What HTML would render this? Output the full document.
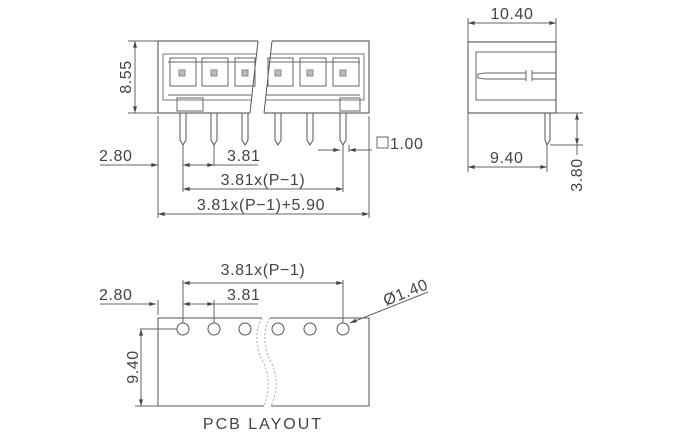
<!DOCTYPE html><html><head><style>body{margin:0;background:#fff}svg{display:block}text{font-family:"Liberation Sans",sans-serif;fill:#444;font-size:16px;letter-spacing:0.6px}</style></head><body>
<svg width="680" height="440" viewBox="0 0 680 440" xmlns="http://www.w3.org/2000/svg" stroke="#444" fill="none" stroke-width="1">
<defs><marker id="a" viewBox="0 0 10 6" refX="10" refY="3" markerWidth="8" markerHeight="4" orient="auto-start-reverse"><path d="M0,0L10,3L0,6z" fill="#444" stroke="none"/></marker></defs>
<!-- front view -->
<path d="M258,41H158V113H250M264,113H369V41H272"/>
<path d="M257,54H163V100H251M265,100H364V54H270" stroke="#777"/>
<path d="M258,41L250,113M272,41L264,113" stroke="#555"/>
<g stroke="#666">
<rect x="170" y="58" width="26" height="28"/><rect x="202" y="58" width="26" height="28"/><rect x="235" y="58" width="20" height="28"/>
<rect x="268" y="58" width="25" height="28"/><rect x="300" y="58" width="26" height="28"/><rect x="333" y="58" width="26" height="28"/>
<path d="M168,62H256M268,62H360M168,95H252M266,95H360"/>
<rect x="177" y="98" width="26" height="13"/><rect x="340" y="98" width="20" height="13"/>
</g>
<g stroke="#888" fill="#bbb"><rect x="179" y="70" width="6" height="6"/><rect x="211" y="70" width="6" height="6"/><rect x="242" y="70" width="6" height="6"/><rect x="275" y="70" width="6" height="6"/><rect x="307" y="70" width="6" height="6"/><rect x="340" y="70" width="6" height="6"/></g>
<g stroke="#555">
<path d="M180,113V140L183,145L186,140V113"/><path d="M211,113V140L214,145L217,140V113"/><path d="M242,113V140L245,145L248,140V113"/><path d="M275,113V140L278,145L281,140V113"/><path d="M307,113V140L310,145L313,140V113"/><path d="M340,113V140L343,145L346,140V113"/>
</g>
<g stroke="#666">
<path d="M128,41H158M128,113H158"/><line x1="135" y1="41" x2="135" y2="113" marker-start="url(#a)" marker-end="url(#a)"/>
<path d="M158,116V218M369,116V218M183,145V192M214,145V166M343,145V192M349,145V152"/>
<line x1="100" y1="165" x2="158" y2="165" marker-end="url(#a)"/>
<line x1="183" y1="165" x2="214" y2="165" marker-start="url(#a)" marker-end="url(#a)"/><path d="M214,165H258"/>
<line x1="183" y1="189" x2="343" y2="189" marker-start="url(#a)" marker-end="url(#a)"/>
<line x1="158" y1="214" x2="369" y2="214" marker-start="url(#a)" marker-end="url(#a)"/>
<line x1="318" y1="150" x2="340" y2="150" marker-end="url(#a)"/><line x1="372" y1="150" x2="349" y2="150" marker-end="url(#a)"/>
<rect x="377" y="137" width="11" height="11"/>
</g>
<text x="99" y="161" stroke="none">2.80</text>
<text x="227" y="161" stroke="none">3.81</text>
<text x="263" y="185" stroke="none" text-anchor="middle">3.81x(P−1)</text>
<text x="261" y="210" stroke="none" text-anchor="middle">3.81x(P−1)+5.90</text>
<text x="390" y="149" stroke="none">1.00</text>
<text transform="translate(131,77) rotate(-90)" stroke="none" text-anchor="middle">8.55</text>
<!-- side view -->
<rect x="468" y="42" width="88" height="71"/>
<path d="M556,52H476V100H556" stroke="#666"/>
<path d="M526,70V81M532,70V81M485,73H526M485,79H526M485,73L478,74V78L485,79M532,73H556M532,79H556" stroke="#666"/>
<path d="M545,113V140L547,145L550,140V113" stroke="#555"/>
<g stroke="#666">
<path d="M468,18V42M556,18V42M468,113V172M547,145V172M556,113H583M550,145H583"/>
<line x1="468" y1="23" x2="556" y2="23" marker-start="url(#a)" marker-end="url(#a)"/>
<line x1="468" y1="167" x2="547" y2="167" marker-start="url(#a)" marker-end="url(#a)"/>
<line x1="577" y1="113" x2="577" y2="145" marker-start="url(#a)" marker-end="url(#a)"/>
<path d="M577,145V155"/>
</g>
<text x="512" y="19" stroke="none" text-anchor="middle">10.40</text>
<text x="490" y="163" stroke="none">9.40</text>
<text transform="translate(582,175) rotate(-90)" stroke="none" text-anchor="middle">3.80</text>
<!-- PCB -->
<path d="M262,318H158V406H264M271,406H369V318H270" stroke="#555"/>
<path d="M262,318C255,330 255,345 262,360C270,375 270,390 264,406M270,318C263,330 263,345 270,360C278,375 278,390 271,406" stroke="#aaa" stroke-dasharray="2,2"/>
<g stroke="#555"><circle cx="183" cy="329" r="6"/><circle cx="214" cy="329" r="6"/><circle cx="245" cy="329" r="6"/><circle cx="278" cy="329" r="6"/><circle cx="310" cy="329" r="6"/><circle cx="343" cy="329" r="6"/></g>
<g stroke="#666">
<path d="M183,280V323M343,280V323M214,300V323M158,300V315M140,329H177M135,406H158"/>
<line x1="183" y1="283" x2="343" y2="283" marker-start="url(#a)" marker-end="url(#a)"/>
<line x1="100" y1="304" x2="156" y2="304" marker-end="url(#a)"/>
<line x1="183" y1="304" x2="214" y2="304" marker-start="url(#a)" marker-end="url(#a)"/><path d="M214,304H258"/>
<line x1="141" y1="329" x2="141" y2="406" marker-start="url(#a)" marker-end="url(#a)"/>
<line x1="428" y1="292" x2="350" y2="323" marker-end="url(#a)"/>
</g>
<text x="263" y="275" stroke="none" text-anchor="middle">3.81x(P−1)</text>
<text x="99" y="300" stroke="none">2.80</text>
<text x="227" y="300" stroke="none">3.81</text>
<text transform="translate(386,306) rotate(-22)" stroke="none">Ø1.40</text>
<text transform="translate(138,367) rotate(-90)" stroke="none" text-anchor="middle">9.40</text>
<text x="263" y="429" stroke="none" text-anchor="middle" style="letter-spacing:2px">PCB LAYOUT</text>
</svg></body></html>
